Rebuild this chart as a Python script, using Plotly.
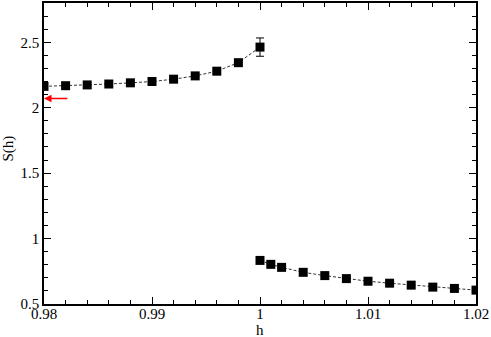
import plotly.graph_objs as go

# left branch (h < 1)
h_low = [0.980, 0.982, 0.984, 0.986, 0.988, 0.990, 0.992, 0.994, 0.996, 0.998, 1.000]
s_low = [2.163, 2.168, 2.174, 2.181, 2.190, 2.200, 2.218, 2.243, 2.279, 2.344, 2.463]
err_low = [0, 0, 0, 0, 0, 0, 0, 0, 0, 0, 0.07]

# right branch (h >= 1)
h_high = [1.000, 1.001, 1.002, 1.004, 1.006, 1.008, 1.010, 1.012, 1.014, 1.016, 1.018, 1.020]
s_high = [0.833, 0.803, 0.780, 0.742, 0.717, 0.694, 0.674, 0.659, 0.644, 0.629, 0.619, 0.606]

# red arrow marking the reference value
arrow_tail = (0.9823, 2.07)
arrow_head = (0.980, 2.07)

font = dict(family="Liberation Serif, Times New Roman, serif", size=15, color="black")

fig = go.Figure()
marker = dict(symbol="square", size=9, color="black")
line = dict(color="#333333", width=1, dash="3px,2px")

fig.add_trace(go.Scatter(x=h_low, y=s_low, mode="lines+markers", marker=marker, line=line,
                         error_y=dict(type="data", array=err_low, color="black", thickness=1, width=4),
                         showlegend=False))
fig.add_trace(go.Scatter(x=h_high, y=s_high, mode="lines+markers", marker=marker, line=line,
                         showlegend=False))

fig.add_annotation(x=arrow_head[0], y=arrow_head[1], ax=arrow_tail[0], ay=arrow_tail[1],
                   xref="x", yref="y", axref="x", ayref="y", text="", showarrow=True,
                   arrowhead=2, arrowsize=1, arrowwidth=1.5, arrowcolor="red")

# axis titles placed by hand, the way the original sits them close to the ticks
fig.add_annotation(text="h", xref="paper", yref="paper", x=0.5, y=0, yanchor="top",
                   yshift=-17, borderpad=0, showarrow=False, font=font)
fig.add_annotation(text="S(h)", xref="paper", yref="paper", x=0, y=0.5, textangle=-90,
                   xanchor="center", xshift=-36, yshift=5, borderpad=0, showarrow=False, font=font)

axis_common = dict(showgrid=False, zeroline=False, showline=True, linecolor="black", linewidth=1.5,
                   mirror="ticks", ticks="inside", ticklen=7, tickwidth=1, tickcolor="black",
                   tickfont=font)

fig.update_xaxes(range=[0.98, 1.02], tick0=0.98, dtick=0.01, ticklabelstandoff=-5,
                 minor=dict(ticks="inside", ticklen=4, dtick=0.002, tick0=0.98, tickcolor="black"),
                 **axis_common)
fig.update_yaxes(range=[0.5, 2.8], tick0=0.5, dtick=0.5,
                 minor=dict(ticks="inside", ticklen=4, dtick=0.1, tick0=0.5, tickcolor="black"),
                 **axis_common)

fig.update_layout(width=491, height=337, margin=dict(l=44, r=15, t=3, b=33, autoexpand=False),
                  plot_bgcolor="white", paper_bgcolor="white", font=font)

# page body has a default 8px margin; drop it so the figure sits at the window corner
fig.write_html("out.html", config={"displayModeBar": False},
               post_script="document.body.style.margin='0';")
